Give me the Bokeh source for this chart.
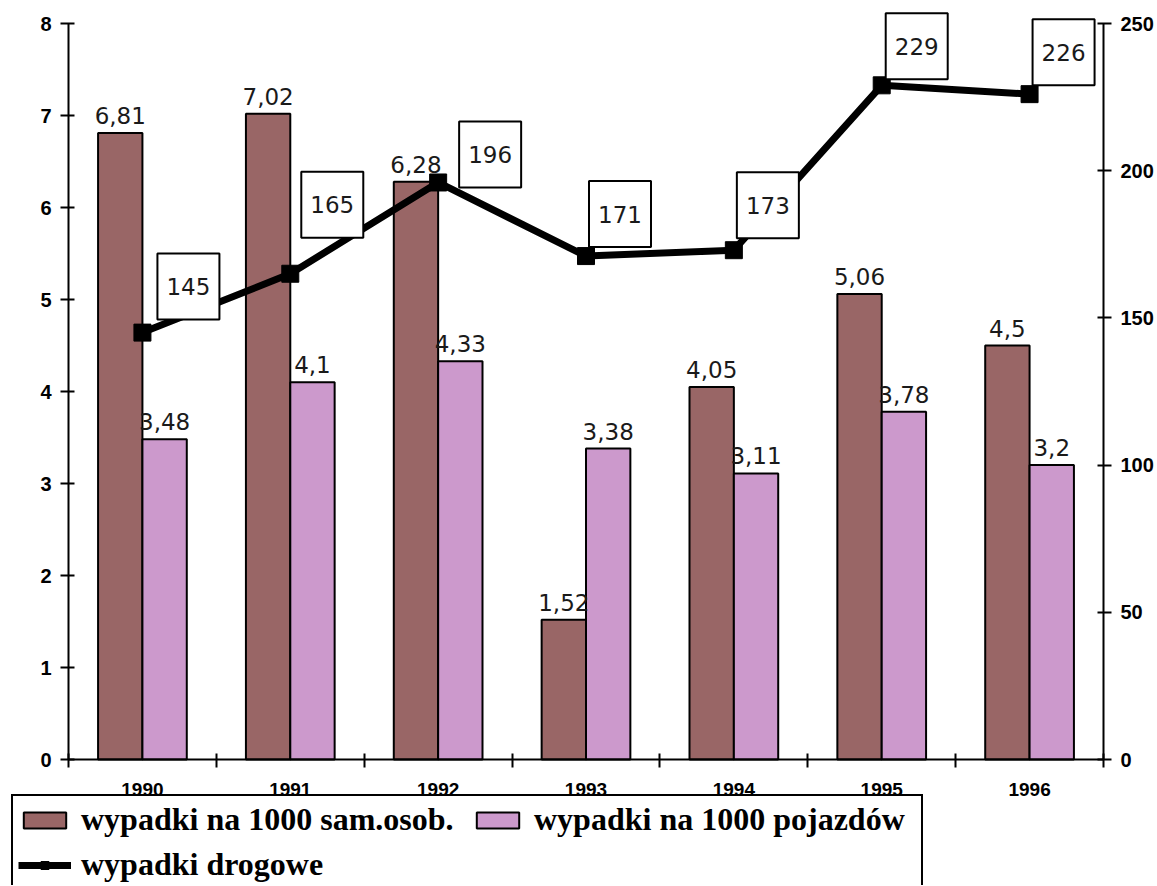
from bokeh.plotting import figure
from bokeh.models import Range1d, LinearAxis, FixedTicker, Legend, LegendItem, ColumnDataSource
from bokeh.core.properties import value
from bokeh.embed import file_html
from bokeh.resources import INLINE

# ---- data ----
years = ["1990", "1991", "1992", "1993", "1994", "1995", "1996"]
per_1000_cars = [6.81, 7.02, 6.28, 1.52, 4.05, 5.06, 4.5]
per_1000_vehicles = [3.48, 4.1, 4.33, 3.38, 3.11, 3.78, 3.2]
road_accidents = [145, 165, 196, 171, 173, 229, 226]
left_ticks = [0, 1, 2, 3, 4, 5, 6, 7, 8]
right_ticks = [0, 50, 100, 150, 200, 250]
series_names = ["wypadki na 1000 sam.osob.", "wypadki na 1000 pojazdów", "wypadki drogowe"]

# ---- layout / style ----
BROWN = "#996666"
PINK = "#CC99CC"
W, H = 1156, 885                 # whole canvas is the plot frame
AX_LEFT, AX_RIGHT = 68, 1103     # screen x of the two value axes
AX_TOP, AX_BOTTOM = 23, 759      # screen y of the top / zero of the axes
BAR_W = 0.3
AX_FONT = "Liberation Sans"
VAL_FONT = "DejaVu Sans"
# label box offsets (screen px) relative to each line point: (dx right, dy up)
box_offsets = [(46, 46), (42, 69), (52, 28), (34, 42), (34, 45), (35, 39), (34, 42)]

n = len(years)
LMAX, RMAX = left_ticks[-1], right_ticks[-1]
px_x = (AX_RIGHT - AX_LEFT) / n
px_yl = (AX_BOTTOM - AX_TOP) / LMAX
px_yr = (AX_BOTTOM - AX_TOP) / RMAX

centers = [i + 0.5 for i in range(n)]
fmt = lambda v: ("%g" % v).replace(".", ",")

src_a = ColumnDataSource(dict(x=[c - BAR_W / 2 for c in centers], top=per_1000_cars,
                              lab=[fmt(v) for v in per_1000_cars]))
src_b = ColumnDataSource(dict(x=[c + BAR_W / 2 for c in centers], top=per_1000_vehicles,
                              lab=[fmt(v) for v in per_1000_vehicles]))
src_l = ColumnDataSource(dict(x=centers, y=road_accidents,
                              bx=[c + o[0] / px_x for c, o in zip(centers, box_offsets)],
                              by=[v + o[1] / px_yr for v, o in zip(road_accidents, box_offsets)],
                              lab=[str(v) for v in road_accidents]))

x_range = Range1d(-AX_LEFT / px_x, n + (W - AX_RIGHT) / px_x)
y_range = Range1d(-(H - AX_BOTTOM) / px_yl, LMAX + AX_TOP / px_yl)
r_range = Range1d(-(H - AX_BOTTOM) / px_yr, RMAX + AX_TOP / px_yr)

p = figure(width=W, height=H, x_range=x_range, y_range=y_range,
           output_backend="svg", toolbar_location=None,
           min_border=0, min_border_left=0, min_border_right=0,
           min_border_top=0, min_border_bottom=0, x_axis_location=None, y_axis_location=None)
p.extra_y_ranges = {"r": r_range}
p.outline_line_color = None
p.grid.visible = False
p.background_fill_color = "white"
p.border_fill_color = "white"

bars_a = p.vbar(x="x", top="top", width=BAR_W, source=src_a, fill_color=BROWN,
                line_color="black", line_width=2)
bars_b = p.vbar(x="x", top="top", width=BAR_W, source=src_b, fill_color=PINK,
                line_color="black", line_width=2)

for s in (src_a, src_b):
    p.text(x="x", y="top", text="lab", source=s, text_align="center",
           text_baseline="bottom", y_offset=-9,
           text_font=value(VAL_FONT), text_font_size="23px", text_color="#1a1a1a")

line = p.line(x="x", y="y", source=src_l, y_range_name="r", line_width=7, line_color="black")
marks = p.scatter(x="x", y="y", source=src_l, y_range_name="r", marker="square", size=17,
                  fill_color="black", line_color="black")

p.rect(x="bx", y="by", width=62, height=66, width_units="screen", height_units="screen",
       source=src_l, y_range_name="r", fill_color="white", line_color="black", line_width=2)
p.text(x="bx", y="by", text="lab", source=src_l, y_range_name="r", text_align="center",
       text_baseline="middle", text_font=value(VAL_FONT), text_font_size="23px",
       text_color="#1a1a1a")

def style_axis(ax):
    ax.axis_line_width = 2
    ax.axis_line_color = "black"
    ax.major_tick_line_width = 2
    ax.major_tick_line_color = "black"
    ax.major_tick_in = 6
    ax.major_tick_out = 8
    ax.minor_tick_line_color = None
    ax.major_label_text_font = AX_FONT
    ax.major_label_text_font_style = "bold"
    ax.major_label_text_font_size = "20px"
    ax.major_label_text_color = "black"
    ax.major_label_standoff = 9

yl = LinearAxis(ticker=FixedTicker(ticks=left_ticks), fixed_location=0, bounds=(0, LMAX))
style_axis(yl)
p.add_layout(yl, "left")

yr = LinearAxis(y_range_name="r", ticker=FixedTicker(ticks=right_ticks), fixed_location=n,
                bounds=(0, RMAX))
style_axis(yr)
p.add_layout(yr, "right")

xa = LinearAxis(ticker=FixedTicker(ticks=centers, minor_ticks=list(range(n + 1))),
                fixed_location=0, bounds=(0, n))
style_axis(xa)
xa.major_tick_in = 0
xa.major_tick_out = 0
xa.major_tick_line_color = None
xa.minor_tick_line_color = "black"
xa.minor_tick_line_width = 2
xa.minor_tick_in = 6
xa.minor_tick_out = 8
xa.major_label_text_font_size = "19px"
xa.major_label_standoff = 15
xa.major_label_overrides = {c: y for c, y in zip(centers, years)}
p.add_layout(xa, "below")

legend = Legend(items=[LegendItem(label=series_names[0], renderers=[bars_a]),
                       LegendItem(label=series_names[1], renderers=[bars_b]),
                       LegendItem(label=series_names[2], renderers=[line, marks])],
                location=(11, -5), orientation="horizontal", ncols=2,
                label_text_font="Liberation Serif", label_text_font_style="bold",
                label_text_font_size="32px", label_text_color="black",
                glyph_width=53, glyph_height=20, label_standoff=10, label_width=382,
                padding=5, spacing=8, margin=0,
                border_line_color="black", border_line_width=2, border_line_alpha=1.0,
                background_fill_color="white", background_fill_alpha=1.0)
p.add_layout(legend, "center")

open("out.html", "w").write(file_html(p, INLINE))
